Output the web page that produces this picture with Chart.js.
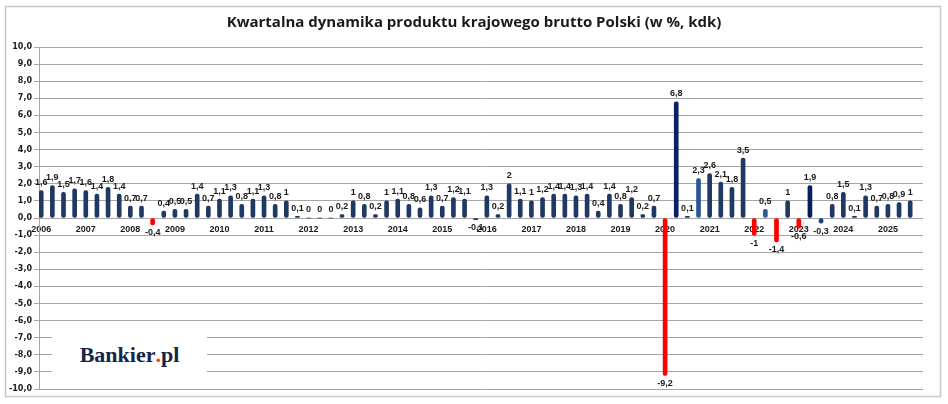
<!DOCTYPE html>
<html>
<head>
<meta charset="utf-8">
<script src="https://cdn.jsdelivr.net/npm/chart.js@4.4.1/dist/chart.umd.min.js"></script>
<style>
  html, body { margin: 0; padding: 0; background: #fff; }
  #wrap { position: relative; width: 948px; height: 404px; }
  #logo {
    position: absolute; left: 52px; top: 332px; width: 155px; height: 45px;
    background: #fff; display: flex; align-items: center; justify-content: center;
    font-family: "Liberation Serif", "DejaVu Serif", serif; font-weight: bold;
    font-size: 22px; color: #14254a;
  }
  #logo span { color: #e8401c; }
</style>
</head>
<body>
<div id="wrap">
  <canvas id="gdp" width="948" height="404" style="width:948px;height:404px"></canvas>
  <div id="logo">Bankier<span>.</span>pl</div>
</div>
<script>
// lata na osi (etykieta przy I kwartale)
const yearLabels = ['2006', '2007', '2008', '2009', '2010', '2011', '2012', '2013', '2014', '2015',
                    '2016', '2017', '2018', '2019', '2020', '2021', '2022', '2023', '2024', '2025'];

// dynamika PKB kw/kw (%), kolejne kwartały
const gdpChange = [
  1.6, 1.9, 1.5, 1.7,   1.6, 1.4, 1.8, 1.4,   0.7, 0.7, -0.4, 0.4,   0.5, 0.5, 1.4, 0.7,
  1.1, 1.3, 0.8, 1.1,   1.3, 0.8, 1, 0.1,     0, 0, 0, 0.2,          1, 0.8, 0.2, 1,
  1.1, 0.8, 0.6, 1.3,   0.7, 1.2, 1.1, -0.1,  1.3, 0.2, 2, 1.1,      1, 1.2, 1.4, 1.4,
  1.3, 1.4, 0.4, 1.4,   0.8, 1.2, 0.2, 0.7,   -9.2, 6.8, 0.1, 2.3,   2.6, 2.1, 1.8, 3.5,
  -1, 0.5, -1.4, 1,     -0.6, 1.9, -0.3, 0.8, 1.5, 0.1, 1.3, 0.7,    0.8, 0.9, 1
];

const quarters = gdpChange.map((_, i) => yearLabels[Math.floor(i / 4)] + ' Q' + (i % 4 + 1));

const yMin = -10;
const yMax = 10;

// kilka słupków w innym odcieniu granatu
const barShades = { 57: '#0b2260', 59: '#2a5590', 65: '#2c5a94', 69: '#061f5c', 70: '#1e3f78' };

const fmt = v => String(v).replace('.', ',');

const frameAndTitle = {
  id: 'frameAndTitle',
  beforeDraw(chart) {
    const c = chart.ctx;
    c.save();
    c.fillStyle = '#fff';
    c.fillRect(0, 0, chart.width, chart.height);
    c.strokeStyle = '#c8c8c8';
    c.lineWidth = 1.5;
    c.strokeRect(5.5, 6.5, 935, 390);
    c.fillStyle = '#1a1a1a';
    c.font = 'bold 15px "Open Sans", sans-serif';
    c.textAlign = 'center';
    c.textBaseline = 'middle';
    c.fillText('Kwartalna dynamika produktu krajowego brutto Polski (w %, kdk)', 474, 23);
    c.restore();
  }
};

const valueLabels = {
  id: 'valueLabels',
  afterDatasetsDraw(chart) {
    const c = chart.ctx;
    const meta = chart.getDatasetMeta(0);
    c.save();
    c.font = 'bold 9px "Liberation Sans Narrow", "Liberation Sans", sans-serif';
    c.fillStyle = '#1a1a1a';
    c.textAlign = 'center';
    c.textBaseline = 'middle';
    meta.data.forEach((bar, i) => {
      const v = gdpChange[i];
      const y = v >= 0 ? bar.y - 8 : bar.y + 8;
      c.fillText(fmt(v), bar.x, y);
    });
    c.restore();
  }
};

new Chart(document.getElementById('gdp'), {
  type: 'bar',
  data: {
    datasets: [{
      label: 'PKB kw/kw',
      data: gdpChange.map((v, i) => ({ x: i, y: v })),
      backgroundColor: ctx => {
        const v = gdpChange[ctx.dataIndex];
        if (v < -0.35) return '#ff0000';
        return barShades[ctx.dataIndex] || '#1f3864';
      },
      barThickness: 4,
      borderRadius: 2,
      borderSkipped: false
    }]
  },
  options: {
    responsive: false,
    animation: false,
    devicePixelRatio: 1,
    layout: { padding: { top: 47, left: 6, right: 25, bottom: 15 } },
    plugins: {
      legend: { display: false },
      tooltip: { enabled: false },
      title: { display: false }
    },
    scales: {
      x: {
        type: 'linear',
        position: { y: 0 },
        offset: false,
        min: -0.2,
        max: quarters.length + 0.15,
        grid: { display: false, offset: false },
        border: { display: false },
        afterBuildTicks: scale => {
          scale.ticks = yearLabels.map((_, k) => ({ value: k * 4 }));
        },
        ticks: {
          autoSkip: false,
          maxRotation: 0,
          padding: -2,
          color: '#1a1a1a',
          font: { family: '"Liberation Sans Narrow", "Liberation Sans", sans-serif', size: 9, weight: 'bold' },
          callback: (value, index) => yearLabels[index]
        }
      },
      y: {
        min: yMin,
        max: yMax,
        afterFit: scale => { scale.width = 33; },
        grid: { color: '#a6a6a6', lineWidth: 1, tickLength: 5 },
        border: { color: '#a6a6a6' },
        ticks: {
          stepSize: 1,
          padding: 2,
          color: '#1a1a1a',
          font: { family: '"DejaVu Sans", sans-serif', size: 8, weight: 'bold' },
          callback: v => v.toFixed(1).replace('.', ',')
        }
      }
    }
  },
  plugins: [frameAndTitle, valueLabels]
});
</script>
</body>
</html>
